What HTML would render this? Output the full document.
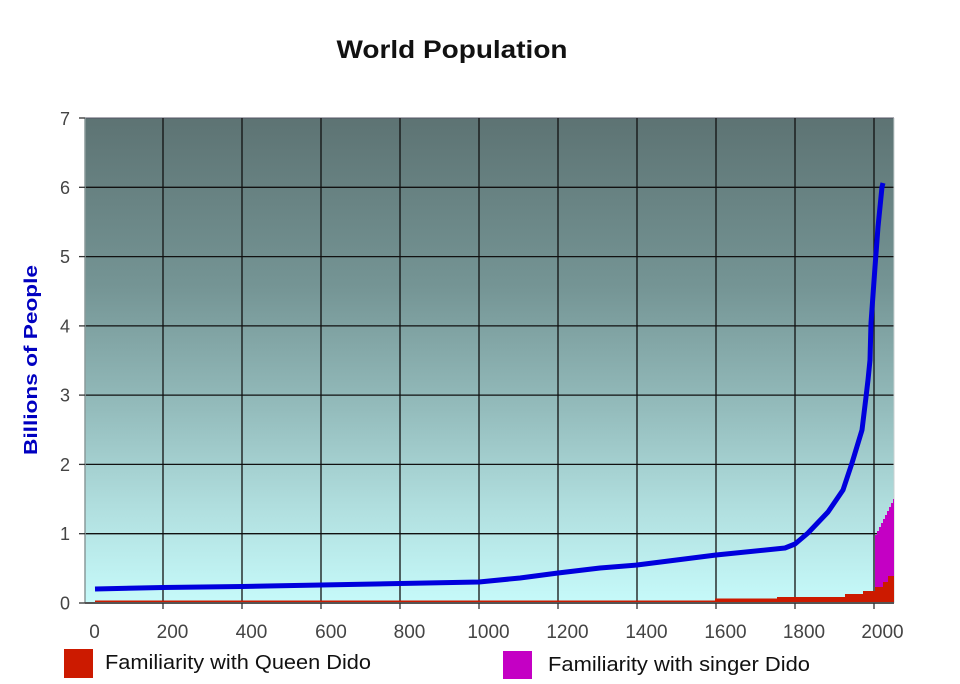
<!DOCTYPE html>
<html>
<head>
<meta charset="utf-8">
<style>
  html, body { margin:0; padding:0; background:#ffffff; }
  svg { display:block; }
</style>
</head>
<body>
<svg width="960" height="684" viewBox="0 0 960 684" xmlns="http://www.w3.org/2000/svg">
  <defs>
    <linearGradient id="bg" x1="0" y1="0" x2="0" y2="1">
      <stop offset="0" stop-color="#5d7373"/>
      <stop offset="0.35" stop-color="#759595"/>
      <stop offset="0.6" stop-color="#94bcbc"/>
      <stop offset="0.8" stop-color="#b0dede"/>
      <stop offset="1" stop-color="#c6fafa"/>
    </linearGradient>
  </defs>

  <!-- Title -->
  <text x="452" y="58" text-anchor="middle" font-family="Liberation Sans, Arial, sans-serif" font-weight="bold" font-size="25" fill="#111" textLength="231" lengthAdjust="spacingAndGlyphs">World Population</text>

  <!-- Plot background -->
  <rect x="85" y="118" width="809" height="485" fill="url(#bg)"/>

  <!-- Horizontal gridlines -->
  <g stroke="#111" stroke-width="1.3">
    <line x1="85" y1="118" x2="894" y2="118" stroke="#556" stroke-width="1"/>
    <line x1="85" y1="187.3" x2="894" y2="187.3"/>
    <line x1="85" y1="256.6" x2="894" y2="256.6"/>
    <line x1="85" y1="325.9" x2="894" y2="325.9"/>
    <line x1="85" y1="395.1" x2="894" y2="395.1"/>
    <line x1="85" y1="464.4" x2="894" y2="464.4"/>
    <line x1="85" y1="533.7" x2="894" y2="533.7"/>
  </g>
  <!-- Vertical gridlines -->
  <g stroke="#111" stroke-width="1.3">
    <line x1="163" y1="118" x2="163" y2="603"/>
    <line x1="242" y1="118" x2="242" y2="603"/>
    <line x1="321" y1="118" x2="321" y2="603"/>
    <line x1="400" y1="118" x2="400" y2="603"/>
    <line x1="479" y1="118" x2="479" y2="603"/>
    <line x1="558" y1="118" x2="558" y2="603"/>
    <line x1="637" y1="118" x2="637" y2="603"/>
    <line x1="716" y1="118" x2="716" y2="603"/>
    <line x1="795" y1="118" x2="795" y2="603"/>
    <line x1="874" y1="118" x2="874" y2="603"/>
  </g>
  <!-- plot borders -->
  <line x1="85" y1="118" x2="85" y2="603" stroke="#8a9a9a" stroke-width="1.5"/>
  <line x1="894" y1="118" x2="894" y2="603" stroke="#c8d0d0" stroke-width="1"/>

  <!-- Magenta area (singer Dido) -->
  <polygon fill="#c400c4" points="875,603 875,535 877,535 877,531 879,531 879,527 881,527 881,523 883,523 883,519 885,519 885,515 887,515 887,511 889,511 889,507 891,507 891,503 893,503 893,499 894,499 894,603"/>

  <!-- Red area (Queen Dido) -->
  <polygon fill="#cc1a00" points="95,603 95,600.5 715,600.5 715,598.5 777,598.5 777,597 845,597 845,594 863,594 863,591 875,591 875,587 883,587 883,582 888,582 888,576 894,576 894,603"/>

  <!-- Bottom axis line -->
  <line x1="85" y1="603" x2="894" y2="603" stroke="#555" stroke-width="2"/>

  <!-- Blue population line -->
  <polyline fill="none" stroke="#0000dd" stroke-width="5" stroke-linejoin="round" stroke-linecap="butt"
    points="95,589 163,587.5 242,586.5 321,585 400,583.5 479,582 520,578 558,573 600,568 637,565 716,555 785,548 795,544 808,533 828,512 843,490 852,463 862,430 866,397 868,380 870,360 871,323 875,267 878,227 882,187 883,183"/>

  <!-- Y ticks -->
  <g stroke="#333" stroke-width="1.3">
    <line x1="79" y1="118" x2="85" y2="118"/>
    <line x1="79" y1="187.3" x2="85" y2="187.3"/>
    <line x1="79" y1="256.6" x2="85" y2="256.6"/>
    <line x1="79" y1="325.9" x2="85" y2="325.9"/>
    <line x1="79" y1="395.1" x2="85" y2="395.1"/>
    <line x1="79" y1="464.4" x2="85" y2="464.4"/>
    <line x1="79" y1="533.7" x2="85" y2="533.7"/>
    <line x1="79" y1="603" x2="85" y2="603"/>
  </g>
  <!-- X ticks -->
  <g stroke="#333" stroke-width="1.3">
    <line x1="163" y1="603" x2="163" y2="609"/>
    <line x1="242" y1="603" x2="242" y2="609"/>
    <line x1="321" y1="603" x2="321" y2="609"/>
    <line x1="400" y1="603" x2="400" y2="609"/>
    <line x1="479" y1="603" x2="479" y2="609"/>
    <line x1="558" y1="603" x2="558" y2="609"/>
    <line x1="637" y1="603" x2="637" y2="609"/>
    <line x1="716" y1="603" x2="716" y2="609"/>
    <line x1="795" y1="603" x2="795" y2="609"/>
    <line x1="874" y1="603" x2="874" y2="609"/>
  </g>

  <!-- Y tick labels -->
  <g font-family="Liberation Sans, Arial, sans-serif" font-size="18" fill="#444" text-anchor="end">
    <text x="70" y="125">7</text>
    <text x="70" y="194">6</text>
    <text x="70" y="263">5</text>
    <text x="70" y="332.5">4</text>
    <text x="70" y="401.5">3</text>
    <text x="70" y="471">2</text>
    <text x="70" y="540">1</text>
    <text x="70" y="609.5">0</text>
  </g>

  <!-- X tick labels -->
  <g font-family="Liberation Sans, Arial, sans-serif" font-size="19" fill="#444" text-anchor="middle">
    <text x="94.5" y="638">0</text>
    <text x="172.5" y="638">200</text>
    <text x="251.5" y="638">400</text>
    <text x="331" y="638">600</text>
    <text x="409.5" y="638">800</text>
    <text x="488.5" y="638">1000</text>
    <text x="567.5" y="638">1200</text>
    <text x="646.5" y="638">1400</text>
    <text x="725.5" y="638">1600</text>
    <text x="804" y="638">1800</text>
    <text x="882.5" y="638">2000</text>
  </g>

  <!-- Y axis title -->
  <text transform="translate(37,360) rotate(-90)" x="0" y="0" text-anchor="middle" font-family="Liberation Sans, Arial, sans-serif" font-weight="bold" font-size="18" fill="#0000c0" textLength="190" lengthAdjust="spacingAndGlyphs">Billions of People</text>

  <!-- Legend -->
  <rect x="64" y="649" width="29" height="29" fill="#cc1a00"/>
  <text x="105" y="669" font-family="Liberation Sans, Arial, sans-serif" font-size="20" fill="#111" textLength="266" lengthAdjust="spacingAndGlyphs">Familiarity with Queen Dido</text>
  <rect x="503" y="651" width="29" height="28" fill="#c400c4"/>
  <text x="548" y="671" font-family="Liberation Sans, Arial, sans-serif" font-size="20" fill="#111" textLength="262" lengthAdjust="spacingAndGlyphs">Familiarity with singer Dido</text>
</svg>
</body>
</html>
